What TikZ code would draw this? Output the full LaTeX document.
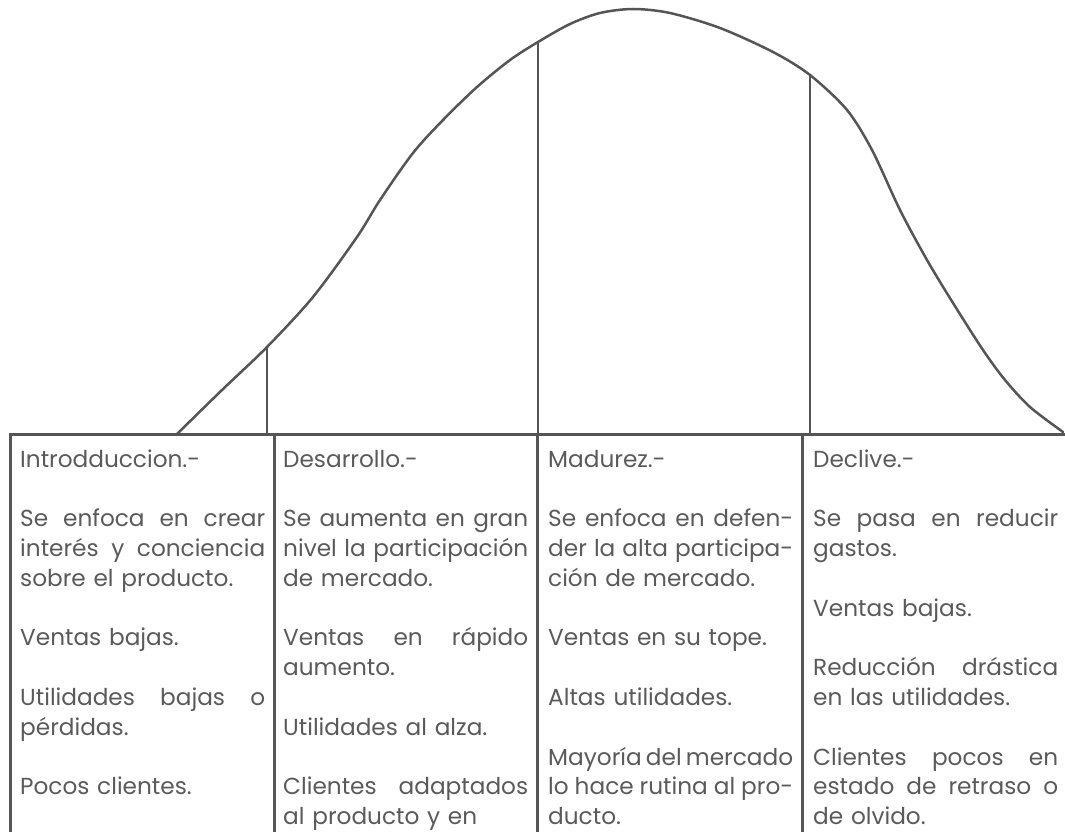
\documentclass[tikz,border=0pt]{standalone}
\usepackage{fontspec}
\setmainfont{Poppins}
\definecolor{ink}{HTML}{555555}
\definecolor{txt}{HTML}{5A5A5A}
\newcommand\J[1]{\leavevmode\hbox to 245pt{#1}}
\newcommand\gap{\hskip 0.26em plus 1fil minus 0.12em\relax}
\begin{document}
\begin{tikzpicture}[x=1pt,y=-1pt,
  frame/.style={draw=ink,line width=3pt},
  marker/.style={draw=ink,line width=2pt},
  curveline/.style={draw=ink,line width=2.5pt,line join=round,line cap=round},
  coltext/.style={anchor=north west,inner sep=0pt,text width=245pt,align=left,text=txt,font=\fontsize{23.2}{29.8}\selectfont}]
\useasboundingbox (0,0) rectangle (1065,832);

% curve
\coordinate (c0) at (177,434);
\coordinate (v1) at (267,347);
\coordinate (v2) at (538,42);
\coordinate (v3) at (810,75);
\coordinate (cE) at (1063,432);
\draw[curveline] plot[smooth,tension=0.5] coordinates {(177,434) (222,390) (267,347) (313,297) (357,237) (380,200) (413,153) (443,120) (477,87) (510,60) (538,42) (570,24) (600,13) (633,9) (670,13) (720,28) (773,52) (810,75) (847,110) (872,150) (900,210) (927,260) (953,303) (983,350) (1005,380) (1030,407) (1063,432)};

% table frame
\coordinate (tl) at (10,434);
\coordinate (tr) at (1065,434);
\coordinate (bl) at (10,832);
\coordinate (d1t) at (274,434);
\coordinate (d1b) at (274,832);
\coordinate (d2t) at (537,434);
\coordinate (d2b) at (537,832);
\coordinate (d3t) at (802,434);
\coordinate (d3b) at (802,832);
\draw[frame] (bl) -- (tl) -- (tr);
\draw[frame] (d1t) -- (d1b);
\draw[frame] (d2t) -- (d2b);
\draw[frame] (d3t) -- (d3b);

% markers from curve down to table
\draw[marker] (v1) -- (v1 |- tl);
\draw[marker] (v2) -- (v2 |- tl);
\draw[marker] (v3) -- (v3 |- tl);

% columns
\node[coltext] (col1) at (20,446) {\strut Introdduccion.-\\
\mbox{}\\
\J{Se\gap enfoca\gap en\gap crear}\\
\J{interés\gap y\gap conciencia}\\
sobre el producto.\\
\mbox{}\\
Ventas bajas.\\
\mbox{}\\
\J{Utilidades\gap bajas\gap o}\\
pérdidas.\\
\mbox{}\\
Pocos clientes.};

\node[coltext] (col2) at (283,446) {\strut Desarrollo.-\\
\mbox{}\\
\J{Se\gap aumenta\gap en\gap gran}\\
\J{nivel\gap la\gap participación}\\
de mercado.\\
\mbox{}\\
\J{Ventas\gap en\gap rápido}\\
aumento.\\
\mbox{}\\
Utilidades al alza.\\
\mbox{}\\
\J{Clientes\gap adaptados}\\
al producto y en};

\node[coltext] (col3) at (548,446) {\strut Madurez.-\\
\mbox{}\\
\J{Se\gap enfoca\gap en\gap defen-}\\
\J{der\gap la\gap alta\gap participa-}\\
ción de mercado.\\
\mbox{}\\
Ventas en su tope.\\
\mbox{}\\
Altas utilidades.\\
\mbox{}\\
\J{Mayoría\gap del\gap mercado}\\
\J{lo\gap hace\gap rutina\gap al\gap pro-}\\
ducto.};

\node[coltext] (col4) at (813,446) {\strut Declive.-\\
\mbox{}\\
\J{Se\gap pasa\gap en\gap reducir}\\
gastos.\\
\mbox{}\\
Ventas bajas.\\
\mbox{}\\
\J{Reducción\gap drástica}\\
en las utilidades.\\
\mbox{}\\
\J{Clientes\gap pocos\gap en}\\
\J{estado\gap de\gap retraso\gap o}\\
de olvido.};
\end{tikzpicture}
\end{document}
